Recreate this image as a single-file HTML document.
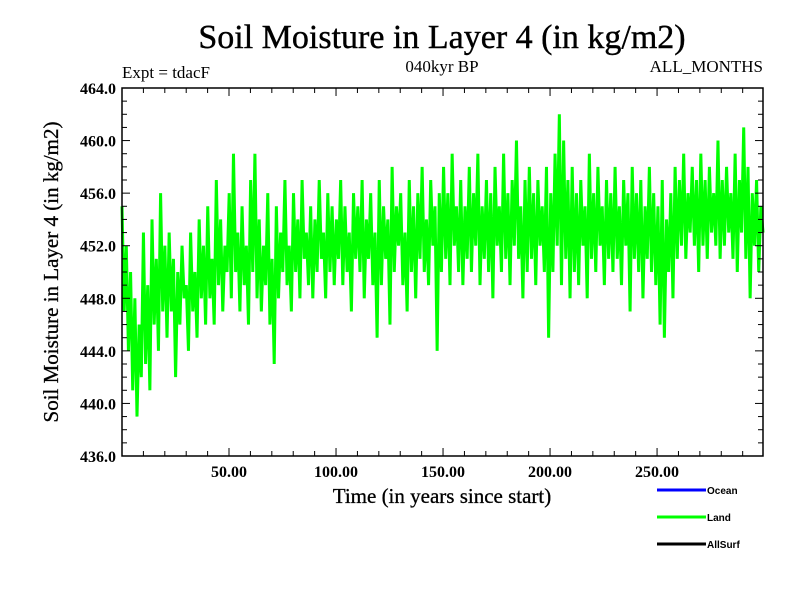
<!DOCTYPE html>
<html><head><meta charset="utf-8"><style>
body{margin:0;background:#fff;}
svg text{font-family:"Liberation Serif",serif;fill:#000;}
</style></head><body>
<svg id="chart" width="800" height="600" xmlns="http://www.w3.org/2000/svg">
<rect width="800" height="600" fill="#fff"/>
<text x="442" y="48" font-size="34" text-anchor="middle" stroke="#000" stroke-width="0.4">Soil Moisture in Layer 4 (in kg/m2)</text>
<text x="122" y="78" font-size="17">Expt = tdacF</text>
<text x="442" y="72" font-size="17" text-anchor="middle">040kyr BP</text>
<text x="763" y="72" font-size="17" text-anchor="end">ALL_MONTHS</text>
<text transform="translate(58,272) rotate(-90)" font-size="21" text-anchor="middle" stroke="#000" stroke-width="0.3">Soil Moisture in Layer 4 (in kg/m2)</text>
<text x="442" y="503" font-size="21" text-anchor="middle" stroke="#000" stroke-width="0.3">Time (in years since start)</text>
<g id="plot"></g>
<g id="axes"></g>
<g>
<line x1="657" y1="490" x2="706" y2="490" stroke="#0000ff" stroke-width="3"/>
<text x="707" y="494" font-size="10" font-weight="bold" style="font-family:'Liberation Sans',sans-serif">Ocean</text>
<line x1="657" y1="517" x2="706" y2="517" stroke="#00ff00" stroke-width="3"/>
<text x="707" y="521" font-size="10" font-weight="bold" style="font-family:'Liberation Sans',sans-serif">Land</text>
<line x1="657" y1="544" x2="706" y2="544" stroke="#000" stroke-width="3"/>
<text x="707" y="548" font-size="10" font-weight="bold" style="font-family:'Liberation Sans',sans-serif">AllSurf</text>
</g>
</svg>
<script>
const landValues = [
455,447,452,444,450,441,448,439,446,442,
453,443,449,441,454,446,451,444,456,447,
452,445,453,447,451,442,450,446,452,448,
449,444,453,447,450,445,454,448,452,446,
455,448,451,446,457,449,454,447,452,450,
456,448,459,450,453,447,455,449,452,446,
457,450,459,448,454,447,452,449,456,446,
451,443,455,448,453,450,457,449,452,447,
456,450,454,448,457,451,453,449,455,448,
454,450,457,451,453,448,456,450,455,449,
454,451,457,449,455,450,453,447,456,451,
455,450,457,448,454,451,456,449,453,445,
457,449,455,451,454,446,458,450,455,452,
456,449,453,447,457,450,455,448,456,451,
458,450,454,449,457,452,455,444,456,450,
458,451,456,449,459,452,455,450,457,449,
455,451,458,450,456,452,459,449,455,451,
457,450,456,448,458,452,455,450,459,451,
456,449,457,452,460,451,455,448,457,450,
458,451,456,449,457,452,455,450,458,445,
456,450,459,452,462,449,460,451,457,448,
458,450,456,449,457,452,455,448,459,451,
456,450,458,452,455,449,457,451,456,450,
458,451,455,449,457,452,456,447,458,451,
456,450,457,448,455,451,458,450,456,449,
455,446,457,445,454,450,456,448,458,451,
457,452,459,451,456,453,458,452,457,450,
459,452,457,451,458,453,456,452,460,451,
457,452,458,453,456,451,459,450,457,453,
461,451,458,448,456,452,457,450,455,453
];
const xTickLabels = ["50.00","100.00","150.00","200.00","250.00"];
const xTickValues = [50,100,150,200,250];
const yTickLabels = ["436.0","440.0","444.0","448.0","452.0","456.0","460.0","464.0"];
const yTickValues = [436,440,444,448,452,456,460,464];

const L=122,R=763,T=88,B=456,X0=0,X1=299.5,Y0=436,Y1=464;
const xs=v=>L+(v-X0)/(X1-X0)*(R-L);
const ys=v=>B-(v-Y0)/(Y1-Y0)*(B-T);
const NS="http://www.w3.org/2000/svg";
function mk(tag,attrs,parent){const e=document.createElementNS(NS,tag);for(const k in attrs)e.setAttribute(k,attrs[k]);parent.appendChild(e);return e;}
const plot=document.getElementById('plot'), axes=document.getElementById('axes');
const pts=landValues.map((v,i)=>xs(i*(X1/(landValues.length-1)))+','+ys(v)).join(' ');
const line=mk('polyline',{points:pts,fill:'none',stroke:'#00ff00','stroke-width':3,'stroke-linejoin':'miter'},plot);


const frame=mk('rect',{x:L,y:T,width:R-L,height:B-T,fill:'none',stroke:'#000','stroke-width':1.5},axes);


for(let v=10;v<300;v+=10){const x=xs(v);const maj=v%50===0;
 mk('line',{x1:x,y1:B,x2:x,y2:B-(maj?8:5),stroke:'#000'},axes);
 mk('line',{x1:x,y1:T,x2:x,y2:T+(maj?8:5),stroke:'#000'},axes);}
for(let v=437;v<464;v++){const y=ys(v);const maj=v%4===0;
 mk('line',{x1:L,y1:y,x2:L+(maj?8:5),y2:y,stroke:'#000'},axes);
 mk('line',{x1:R,y1:y,x2:R-(maj?8:5),y2:y,stroke:'#000'},axes);}
xTickValues.forEach((v,i)=>{const t=mk('text',{x:xs(v),y:477,'font-size':16,'font-weight':'bold','text-anchor':'middle'},axes);t.textContent=xTickLabels[i];
 
 });
yTickValues.forEach((v,i)=>{const t=mk('text',{x:116,y:ys(v)+6,'font-size':16,'font-weight':'bold','text-anchor':'end'},axes);t.textContent=yTickLabels[i];
 
 });
</script>
</body></html>
